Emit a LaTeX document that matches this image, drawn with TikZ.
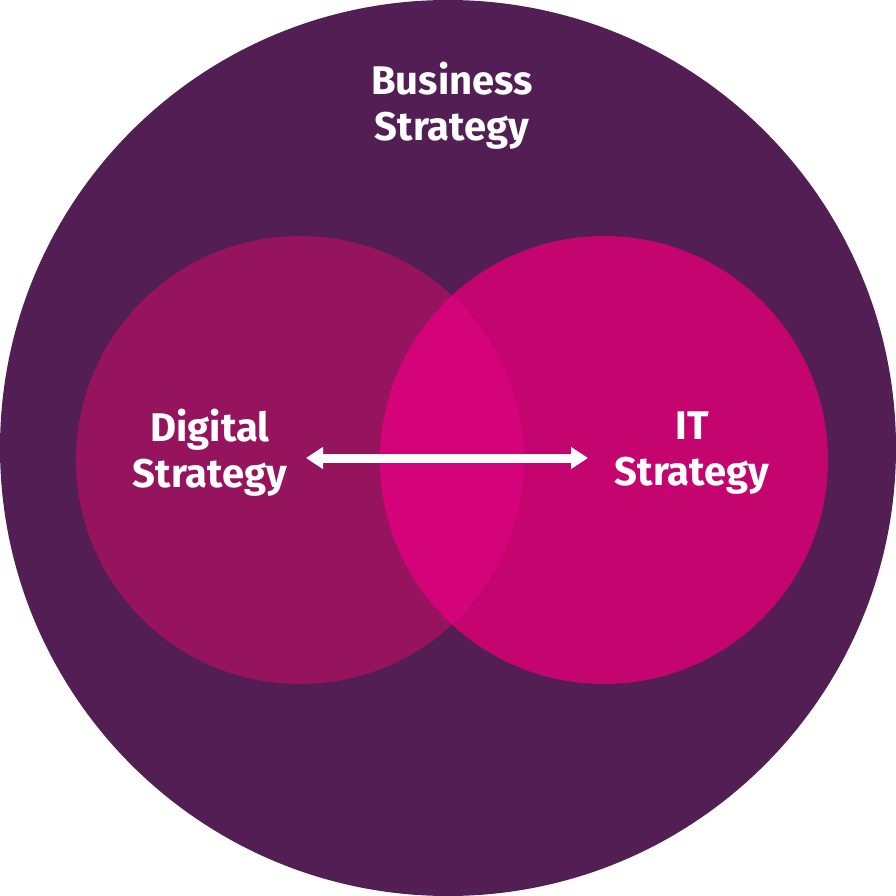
\documentclass[tikz,border=0pt]{standalone}
\usepackage{fontspec}
\setmainfont{Fira Sans}
\usetikzlibrary{arrows.meta}
\definecolor{bizpurple}{HTML}{521E54}
\definecolor{digimag}{HTML}{96145E}
\definecolor{itpink}{HTML}{C4046F}
\definecolor{overlap}{HTML}{D5037A}
\tikzset{
  lbl/.style={text=white, font=\fontsize{40}{46}\selectfont\bfseries, align=center, inner sep=0pt},
}
\begin{document}
\begin{tikzpicture}[x=1pt,y=-1pt]
\useasboundingbox (0,0) rectangle (896,896);
\fill[bizpurple] (448,448) circle[radius=448];
\fill[digimag] (300,460) circle[radius=224];
\fill[itpink] (604,460) circle[radius=224];
\begin{scope}
\clip (300,460) circle[radius=224];
\fill[overlap] (604,460) circle[radius=224];
\end{scope}
\node[lbl] (biz) at (452,106) {Business\\Strategy};
\node[lbl] (dig) at (210,453) {Digital\\Strategy};
\node[lbl] (it) at (692,453) {IT\\Strategy};
\coordinate (al) at (306,458);
\coordinate (ar) at (588,458);
\draw[white, line width=9pt, {Triangle[length=17pt,width=21pt]}-{Triangle[length=17pt,width=21pt]}] (al) -- (ar);
\end{tikzpicture}
\end{document}
